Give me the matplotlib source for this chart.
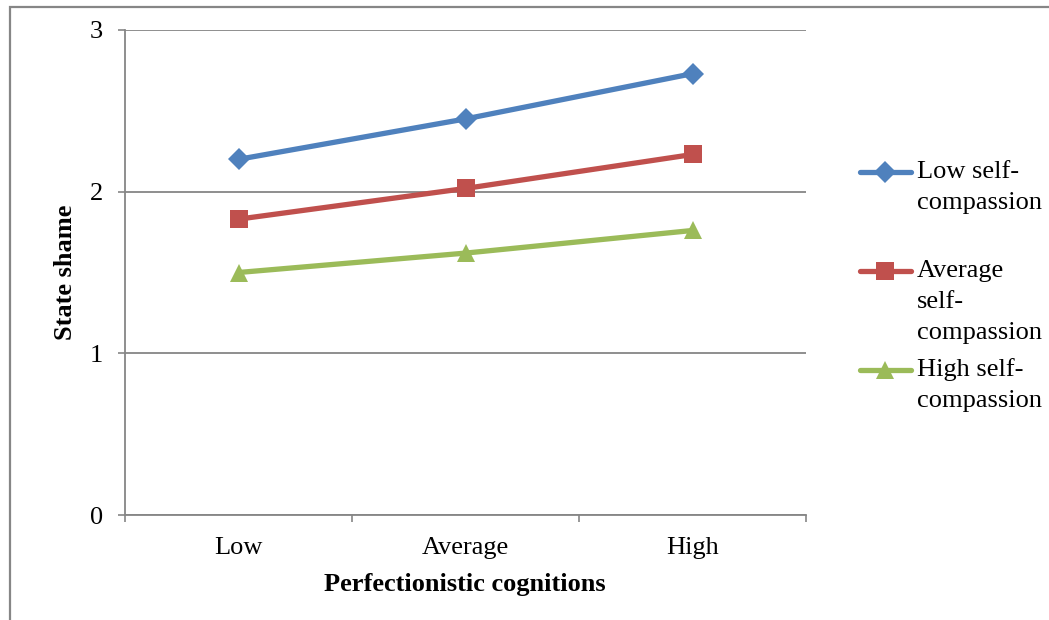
import numpy as np
import matplotlib.pyplot as plt
from matplotlib.lines import Line2D
from matplotlib.patches import Rectangle

plt.rcParams['font.family'] = ['Liberation Serif', 'DejaVu Serif']

categories = ['Low', 'Average', 'High']
low_sc = [2.20, 2.45, 2.73]
avg_sc = [1.83, 2.02, 2.23]
high_sc = [1.50, 1.62, 1.76]

series = [
    (low_sc, '#4F81BD', 'D', 11, 'Low self-\ncompassion'),
    (avg_sc, '#C0504D', 's', 13.5, 'Average\nself-\ncompassion'),
    (high_sc, '#9BBB59', '^', 13.5, 'High self-\ncompassion'),
]

grey = '#868686'
fs = 19

fig = plt.figure(figsize=(10.49, 6.2), dpi=100)
ax = fig.add_axes([125 / 1049, 1 - 515 / 620, 681 / 1049, 485 / 620])

x = np.arange(len(categories))
for vals, col, mk, ms, lab in series:
    ax.plot(x, vals, color=col, lw=3.8, marker=mk, markersize=ms,
            markeredgewidth=0, solid_capstyle='round', zorder=3)

ax.set_xlim(-0.5, 2.5)
ax.set_ylim(0, 3)
ax.set_yticks([0, 1, 2, 3])
ax.set_xticks(x)
ax.set_xticklabels(categories)
ax.set_xticks([-0.5, 0.5, 1.5, 2.5], minor=True)

ax.tick_params(axis='x', which='major', length=0, pad=16, labelsize=fs)
ax.tick_params(axis='x', which='minor', length=5, width=1.2, color=grey, direction='out')
ax.tick_params(axis='y', length=5, width=1.2, color=grey, pad=11, labelsize=fs)

for s in ['top', 'right']:
    ax.spines[s].set_visible(False)
for s in ['left', 'bottom']:
    ax.spines[s].set_color(grey)
    ax.spines[s].set_linewidth(1.3)
ax.yaxis.grid(True, color=grey, lw=1.3)
ax.set_axisbelow(True)

fig.text(465 / 1049, 1 - 585 / 620, 'Perfectionistic cognitions', ha='center', va='center',
         fontsize=fs, fontweight='bold')
fig.text(66 / 1049, 1 - 272 / 620, 'State shame', ha='center', va='center',
         rotation=90, fontsize=fs, fontweight='bold')

# legend drawn by hand so each handle sits on the first text line
leg_y = [172, 271, 370]
line_step = 31
for (vals, col, mk, ms, lab), yy in zip(series, leg_y):
    yf = 1 - yy / 620
    fig.add_artist(Line2D([860 / 1049, 911 / 1049], [yf, yf], color=col, lw=3.8,
                          solid_capstyle='round'))
    fig.add_artist(Line2D([885 / 1049], [yf], color=col, marker=mk, markersize=ms,
                          markeredgewidth=0, lw=0))
    for i, part in enumerate(lab.split('\n')):
        fig.text(917 / 1049, 1 - (yy + i * line_step) / 620, part, ha='left',
                 va='center', fontsize=fs)

# outer chart frame
fig.add_artist(Rectangle((10 / 1049, -0.1), 1.2, 1 - 7 / 620 + 0.1, transform=fig.transFigure,
                         fill=False, edgecolor=grey, lw=1.6))

fig.savefig('out.png', dpi=100)
